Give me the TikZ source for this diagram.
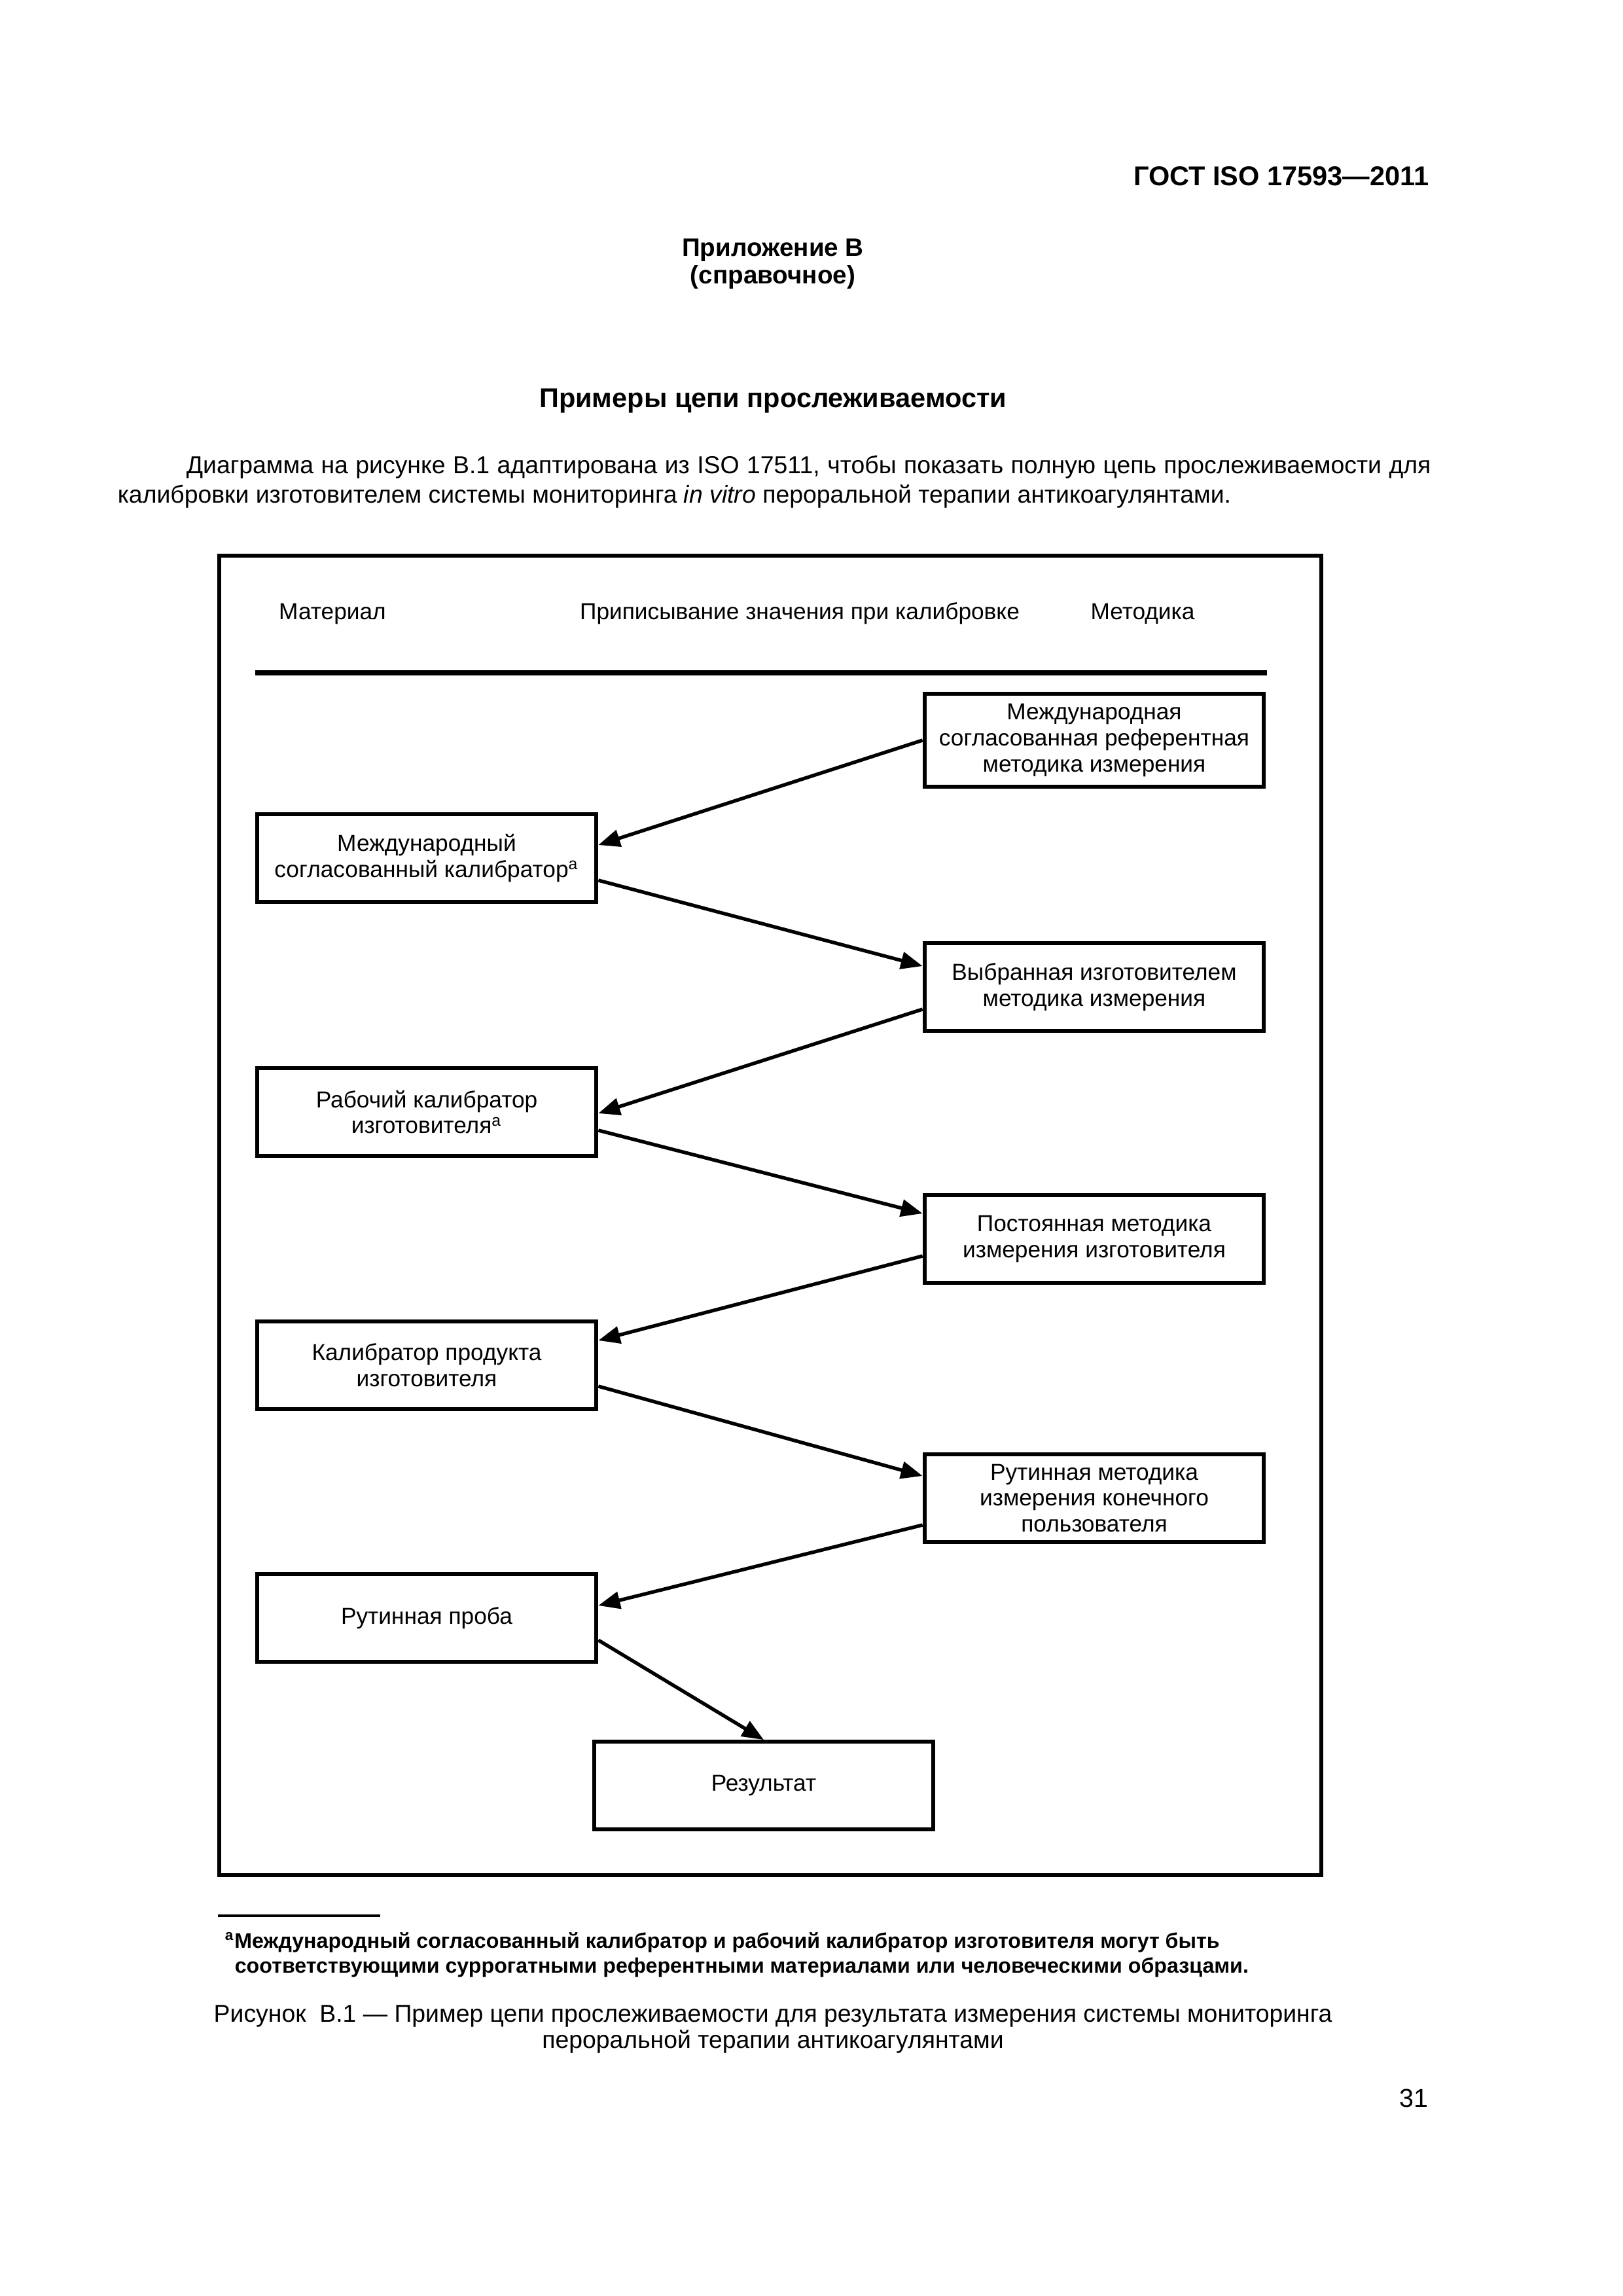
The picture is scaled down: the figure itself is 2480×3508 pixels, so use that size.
\documentclass[tikz,border=0pt]{standalone}
\usepackage{fontspec}
\setmainfont{Liberation Sans}
\usetikzlibrary{arrows.meta,positioning,calc}

\begin{document}
\begin{tikzpicture}[
  x=0.0846774mm, y=-0.0846774mm,
  box/.style={draw, line width=1.5pt, minimum width=43.9mm, minimum height=11.3mm, align=center, inner sep=2pt, font=\fontsize{8.5}{9.6}\selectfont},
  txt/.style={anchor=base, inner sep=0pt},
  arr/.style={-{Triangle[length=2.8mm,width=2.2mm]}, line width=1.3pt}
]
  \fill[white] (0,0) rectangle (2480,3508);
  \useasboundingbox (0,0) rectangle (2480,3508);

  % page head
  \node[txt, anchor=base east, font=\bfseries\fontsize{10}{12}\selectfont] (gost) at (2184,283) {ГОСТ ISO 17593—2011};
  \node[txt, font=\bfseries\fontsize{9.3}{11}\selectfont] (app) at (1181,391) {Приложение В};
  \node[txt, font=\bfseries\fontsize{9.3}{11}\selectfont] (spr) at (1181,433) {(справочное)};
  \node[txt, font=\bfseries\fontsize{10}{12}\selectfont] (title) at (1181,622) {Примеры цепи прослеживаемости};
  \node[txt, anchor=base west, font=\fontsize{9}{11}\selectfont] (par1) at (284,723)
    {\makebox[161mm][s]{Диаграмма на рисунке В.1 адаптирована из ISO 17511, чтобы показать полную цепь прослеживаемости для}};
  \node[txt, anchor=base west, font=\fontsize{9}{11}\selectfont] (par2) at (179,768)
    {калибровки изготовителем системы мониторинга \textit{in vitro} пероральной терапии антикоагулянтами.};

  % frame and column heads
  \draw[line width=1.3pt] (335,849) rectangle (2019,2865);
  \node[txt, font=\fontsize{8.5}{10}\selectfont] (hmat) at (508,946) {Материал};
  \node[txt, font=\fontsize{8.5}{10}\selectfont] (hval) at (1222,946) {Приписывание значения при калибровке};
  \node[txt, font=\fontsize{8.5}{10}\selectfont] (hmet) at (1746,946) {Методика};
  \draw[line width=1.7pt] (390,1028) -- (1936,1028);

  % chain
  \node[box, minimum height=12mm] (b1) at (1672,1131) {Международная\\согласованная референтная\\методика измерения};
  \node[box] (b2) at (652,1311) {Международный\\согласованный калибратор\textsuperscript{a}};
  \node[box] (b3) at (1672,1508) {Выбранная изготовителем\\методика измерения};
  \node[box] (b4) at (652,1699) {Рабочий калибратор\\изготовителя\textsuperscript{a}};
  \node[box] (b5) at (1672,1893) {Постоянная методика\\измерения изготовителя};
  \node[box] (b6) at (652,2086) {Калибратор продукта\\изготовителя};
  \node[box] (b7) at (1672,2289) {Рутинная методика\\измерения конечного\\пользователя};
  \node[box] (b8) at (652,2472) {Рутинная проба};
  \node[box] (b9) at (1167,2728) {Результат};

  \draw[arr] (b1.west) -- ($(b2.east)+(0,-20)$);
  \draw[arr] ($(b2.east)+(0,34)$) -- ($(b3.west)+(0,-32)$);
  \draw[arr] ($(b3.west)+(0,34)$) -- ($(b4.east)+(0,2)$);
  \draw[arr] ($(b4.east)+(0,28)$) -- ($(b5.west)+(0,-39)$);
  \draw[arr] ($(b5.west)+(0,26)$) -- ($(b6.east)+(0,-38)$);
  \draw[arr] ($(b6.east)+(0,32)$) -- ($(b7.west)+(0,-34)$);
  \draw[arr] ($(b7.west)+(0,41)$) -- ($(b8.east)+(0,-19)$);
  \draw[arr] ($(b8.east)+(0,34)$) -- (b9.north);

  % footnote and caption
  \draw[line width=1pt] (333,2927) -- (581,2927);
  \node[txt, anchor=base west, font=\bfseries\fontsize{7.75}{9}\selectfont] (fn1) at (343,2976)
    {\textsuperscript{a}Международный согласованный калибратор и рабочий калибратор изготовителя могут быть};
  \node[txt, anchor=base west, font=\bfseries\fontsize{7.75}{9}\selectfont] (fn2) at (358,3014)
    {соответствующими суррогатными референтными материалами или человеческими образцами.};
  \node[txt, font=\fontsize{9}{11}\selectfont] (cap1) at (1181,3089)
    {Рисунок~~В.1 — Пример цепи прослеживаемости для результата измерения системы мониторинга};
  \node[txt, font=\fontsize{9}{11}\selectfont] (cap2) at (1181,3129) {пероральной терапии антикоагулянтами};
  \node[txt, anchor=base east, font=\fontsize{9.5}{11}\selectfont] (pg) at (2183,3219) {31};
\end{tikzpicture}
\end{document}
